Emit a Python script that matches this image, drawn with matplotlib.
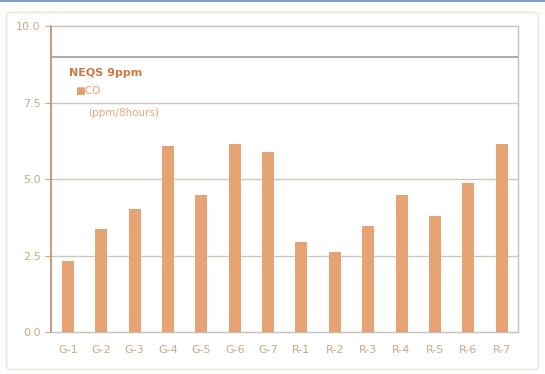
import numpy as np
import matplotlib.pyplot as plt
from matplotlib.patches import Rectangle, FancyBboxPatch

# CO levels per site (ppm, 8-hour average)
sites = ["G-1", "G-2", "G-3", "G-4", "G-5", "G-6", "G-7",
         "R-1", "R-2", "R-3", "R-4", "R-5", "R-6", "R-7"]
co_ppm = [2.33, 3.38, 4.03, 6.07, 4.49, 6.16, 5.9,
          2.95, 2.62, 3.48, 4.49, 3.8, 4.89, 6.16]
neqs_limit = 9.0
yticks = [0.0, 2.5, 5.0, 7.5, 10.0]

bar_color = "#E6A474"
text_color = "#C9A98A"
grid_color = "#CFC7BD"

fig = plt.figure(figsize=(5.45, 3.74), dpi=100)

# outer chart frame and the thin blue strip along the top
fig.patches.append(FancyBboxPatch((0.012, 0.012), 0.976, 0.955,
                                  boxstyle="round,pad=0,rounding_size=0.01",
                                  transform=fig.transFigure, fill=False,
                                  edgecolor="#ECE6DF", linewidth=1.2))
fig.patches.append(Rectangle((0, 0.994), 1, 0.006, transform=fig.transFigure,
                             color="#7F9CC8", linewidth=0))

ax = fig.add_axes([0.094, 0.112, 0.857, 0.818])
x = np.arange(len(sites))
ax.bar(x, co_ppm, width=0.36, color=bar_color, zorder=3)

ax.set_xlim(-0.5, len(sites) - 0.5)
ax.set_ylim(0, 10)
ax.set_yticks(yticks)
ax.set_yticklabels([f"{v:.1f}" for v in yticks])
ax.set_xticks(x)
ax.set_xticklabels(sites)
ax.tick_params(colors=text_color, labelsize=8, length=4, width=0.8)
ax.tick_params(axis="x", length=0, pad=9)

for v in yticks[1:-1]:
    ax.axhline(v, color=grid_color, linewidth=1.0, zorder=1)
ax.axhline(neqs_limit, color="#A89888", linewidth=1.2, zorder=2)

for side in ["top", "right", "bottom"]:
    ax.spines[side].set_color("#C8C0B8")
    ax.spines[side].set_linewidth(1.0)
ax.spines["left"].set_color("#C08A68")
ax.spines["left"].set_linewidth(1.2)

# legend block under the NEQS line
ax.text(0.03, 8.46, "NEQS 9ppm", color="#CC7A40", fontsize=8,
        fontweight="bold", va="center")
ax.text(0.2, 7.88, "■CO", color="#E0A070", fontsize=7.5, va="center")
ax.text(0.6, 7.16, "(ppm/8hours)", color="#E0A880", fontsize=7.5, va="center")

fig.savefig("out.png", dpi=100)
